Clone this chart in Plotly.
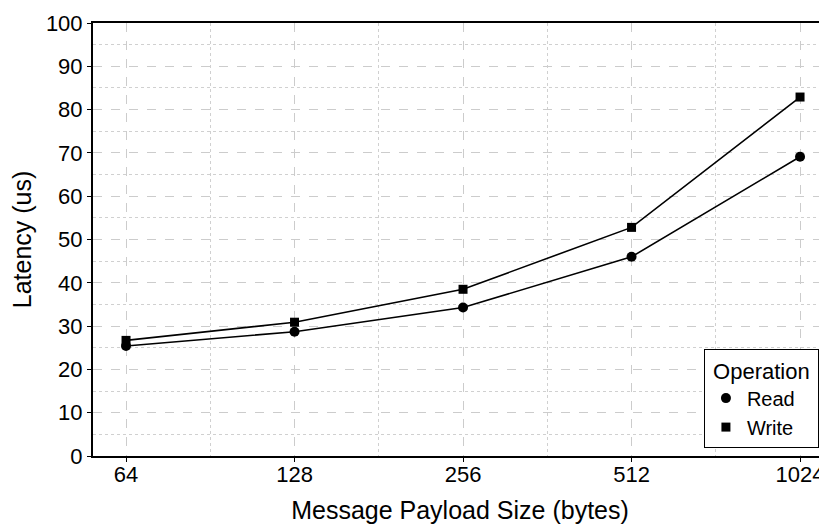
import numpy as np
import plotly.graph_objects as go

sizes = [64, 128, 256, 512, 1024]
tick_labels = ["64", "128", "256", "512", "1024"]
read_latency = [25.4, 28.7, 34.3, 46.0, 69.1]
write_latency = [26.7, 30.9, 38.5, 52.8, 82.9]

minor_x = [float(np.sqrt(a * b)) for a, b in zip(sizes[:-1], sizes[1:])]

fig = go.Figure()
# connecting lines (not in legend)
fig.add_trace(go.Scatter(x=sizes, y=read_latency, mode="lines", showlegend=False,
                         line=dict(color="black", width=1.6), hoverinfo="skip"))
fig.add_trace(go.Scatter(x=sizes, y=write_latency, mode="lines", showlegend=False,
                         line=dict(color="black", width=1.6), hoverinfo="skip"))
# markers (in legend)
fig.add_trace(go.Scatter(x=sizes, y=read_latency, name="Read", mode="markers",
                         marker=dict(symbol="circle", size=10, color="black")))
fig.add_trace(go.Scatter(x=sizes, y=write_latency, name="Write", mode="markers",
                         marker=dict(symbol="square", size=9, color="black")))

lo = np.log10(2 ** 5.804)
hi = np.log10(2 ** 10.16)

fig.update_layout(
    width=819, height=516,
    margin=dict(l=85, r=0, t=15, b=68),
    paper_bgcolor="white", plot_bgcolor="white",
    font=dict(family="Liberation Sans, Arial, sans-serif", color="black"),
    xaxis=dict(type="log", range=[lo, hi], tickmode="array", tickvals=sizes, ticktext=tick_labels,
               showline=True, linecolor="black", linewidth=2, mirror=True,
               ticks="outside", ticklen=4, tickcolor="black", tickwidth=1,
               tickfont=dict(size=22), ticklabelstandoff=-6, ticklabeloverflow="allow",
               showgrid=True, gridcolor="#cccccc", griddash="dash", gridwidth=1,
               minor=dict(tickmode="array", tickvals=minor_x, showgrid=True,
                          gridcolor="#d0d0d0", griddash="dot", gridwidth=1, ticks=""),
               title=dict(text="Message Payload Size (bytes)", font=dict(size=25), standoff=22),
               automargin=False, zeroline=False),
    yaxis=dict(range=[0, 100], tickmode="linear", tick0=0, dtick=10,
               showline=True, linecolor="black", linewidth=2,
               ticks="outside", ticklen=4, tickcolor="black", tickwidth=1,
               tickfont=dict(size=22),
               showgrid=True, gridcolor="#cccccc", griddash="dash", gridwidth=1,
               minor=dict(dtick=5, showgrid=True, gridcolor="#d0d0d0", griddash="dot", gridwidth=1, ticks=""),
               title=dict(text="Latency (us)", font=dict(size=25), standoff=10),
               automargin=False, zeroline=False),
    legend=dict(title=dict(text="&nbsp;Operation&nbsp;", font=dict(size=22), side="top center"),
                font=dict(size=20),
                x=0.989, xanchor="right", y=0.0185, yanchor="bottom",
                bgcolor="white", bordercolor="black", borderwidth=1,
                itemwidth=32),
    showlegend=True,
)

fig.write_html("out.html")
